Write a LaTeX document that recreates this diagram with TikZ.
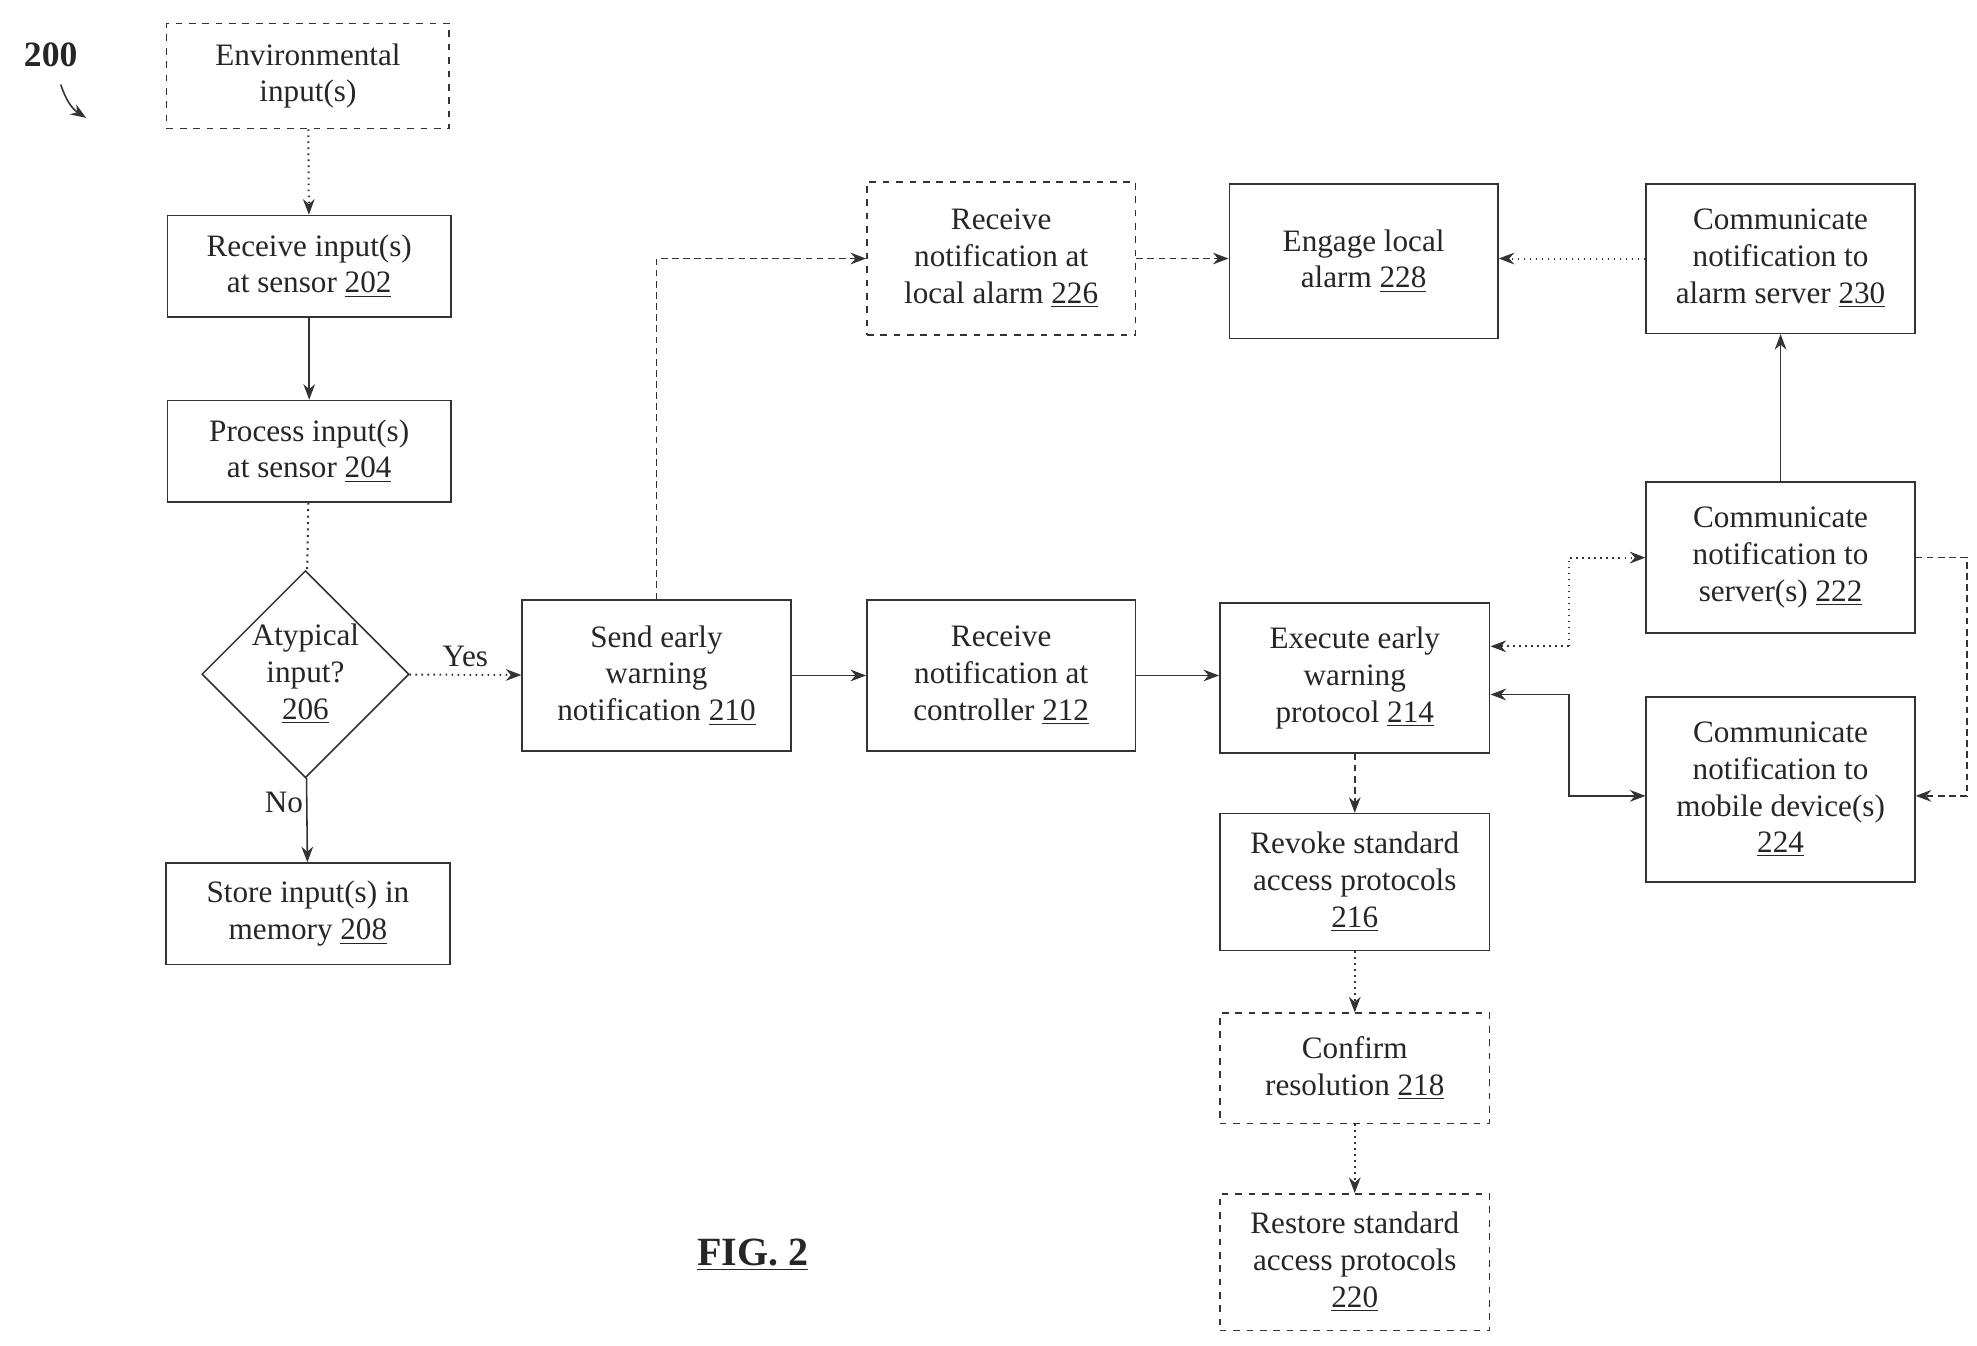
\documentclass[tikz,border=0pt]{standalone}
\usepackage{fontspec}
\setmainfont{Liberation Serif}
\usetikzlibrary{shapes.geometric,arrows.meta}
\begin{document}
\begin{tikzpicture}[x=0.02cm,y=-0.02cm,
  every node/.style={font=\fontsize{14}{16.5}\selectfont,align=center,text=black!85},
  box/.style={draw=black!80,line width=0.7pt,minimum width=4.24cm,minimum height=#1*0.02cm,inner sep=1pt},
  dbox/.style={box=#1,dashed},
  arr/.style={-{Stealth[length=7pt]},draw=black!80,line width=0.7pt},
  dot/.style={dotted,line width=0.9pt},
  dsh/.style={dash pattern=on 3pt off 2pt}]
\useasboundingbox (0,0) rectangle (1560,1062);
\node[dbox=83,minimum width=4.46cm] (env) at (243,60) {Environmental\\input(s)};
\node[box=80,minimum width=4.48cm] (n202) at (244,210) {Receive input(s)\\at sensor \underline{202}};
\node[box=80,minimum width=4.48cm] (n204) at (244,356) {Process input(s)\\at sensor \underline{204}};
\node[draw=black!80,line width=0.7pt,diamond,minimum width=3.2cm,minimum height=3.16cm,inner sep=0pt] (n206) at (241,532) {Atypical\\input?\\\underline{206}};
\node[box=80,minimum width=4.48cm] (n208) at (243,721) {Store input(s) in\\memory \underline{208}};
\node[box=119] (n210) at (518,533) {Send early\\warning\\notification \underline{210}};
\node[box=119] (n212) at (790,533) {Receive\\notification at\\controller \underline{212}};
\node[box=118,minimum width=4.26cm] (n214) at (1069,535) {Execute early\\warning\\protocol \underline{214}};
\node[box=108,minimum width=4.26cm] (n216) at (1069,696) {Revoke standard\\access protocols\\\underline{216}};
\node[dbox=87,minimum width=4.26cm] (n218) at (1069,843) {Confirm\\resolution \underline{218}};
\node[dbox=108,minimum width=4.26cm] (n220) at (1069,996) {Restore standard\\access protocols\\\underline{220}};
\node[dbox=121] (n226) at (790,204) {Receive\\notification at\\local alarm \underline{226}};
\node[box=122] (n228) at (1076,206) {Engage local\\alarm \underline{228}};
\node[box=118] (n230) at (1405,204) {Communicate\\notification to\\alarm server \underline{230}};
\node[box=119] (n222) at (1405,440) {Communicate\\notification to\\server(s) \underline{222}};
\node[box=146] (n224) at (1405,623) {Communicate\\notification to\\mobile device(s)\\\underline{224}};
\node[font=\fontsize{16}{18}\selectfont\bfseries] (lab) at (40,43) {200};
\node[font=\fontsize{18}{20}\selectfont\bfseries] (fig) at (594,990) {\underline{FIG. 2}};
\coordinate (c200) at (68,93);
\draw[arr] (lab.south) ++(8,8) to[bend right=20] (c200);
\draw[arr,dot] (env) -- (n202);
\draw[arr] (n202) -- (n204);
\draw[dot,draw=black!80] (n204) -- (n206);
\draw[arr] (n206) -- node[pos=0.3,left,xshift=2pt]{No} (n208);
\draw[arr,dot] (n206) -- node[above]{Yes} (n210);
\draw[arr,dsh] (n210.north) |- (n226.west);
\draw[arr] (n210) -- (n212);
\draw[arr] (n212) -- (n214.west |- n212);
\draw[arr,dsh] (n226) -- (n228.west |- n226);
\draw[arr,dot] (n230) -- (n228.east |- n230);
\draw[arr] (n222) -- (n230);
\draw[arr,dsh] (n214) -- (n216);
\draw[arr,dot] (n216) -- (n218);
\draw[arr,dot] (n218) -- (n220);
\coordinate (j1) at (1238,510);
\coordinate (j2) at (1238,548);
\coordinate (r1) at (1552,440);
\draw[arr,dot] (j1) -- (n214.east |- j1);
\draw[arr,dot] (j1) |- (n222.west);
\draw[arr] (j2) -- (n214.east |- j2);
\draw[arr] (j2) |- (n224.west |- 0,628);
\draw[arr,dsh] (n222.east) -- (r1) |- (n224.east |- 0,628);
\end{tikzpicture}
\end{document}
